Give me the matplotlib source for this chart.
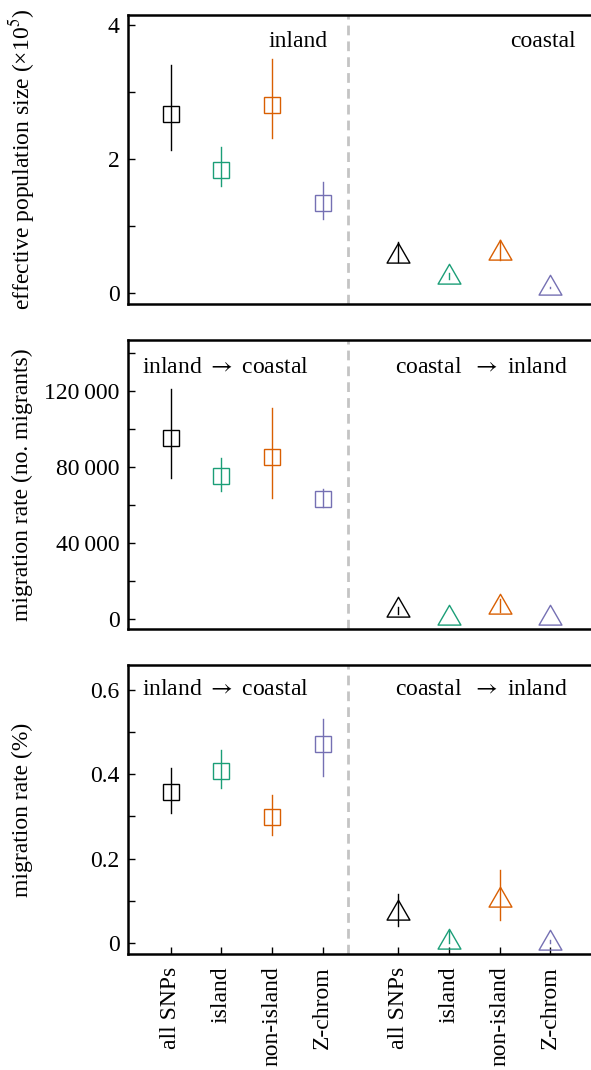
import numpy as np
import matplotlib
matplotlib.use('Agg')
import matplotlib.pyplot as plt
import matplotlib.path as mpath
from matplotlib.ticker import FixedLocator

plt.rcParams['font.family'] = ['Liberation Serif', 'DejaVu Serif']
plt.rcParams['mathtext.fontset'] = 'stix'
plt.rcParams['font.size'] = 17

# 데이터
categories = ['all SNPs', 'island', 'non-island', 'Z-chrom']
colors = ['#000000', '#1b9e77', '#d95f02', '#7570b3']

# effective population size (x10^5)
ne_inland = [2.67, 1.84, 2.81, 1.34]
ne_inland_lo = [2.13, 1.60, 2.31, 1.10]
ne_inland_hi = [3.40, 2.18, 3.49, 1.66]
ne_coastal = [0.56, 0.24, 0.60, 0.085]
ne_coastal_lo = [0.46, 0.21, 0.49, 0.08]
ne_coastal_hi = [0.77, 0.30, 0.79, 0.10]

# migration rate (no. migrants)
mig_ic = [95100, 75300, 85400, 63200]
mig_ic_lo = [74000, 67500, 63500, 59000]
mig_ic_hi = [120900, 84600, 111200, 68400]
mig_ci = [4500, 400, 6500, 400]
mig_ci_lo = [2600, 300, 3800, 300]
mig_ci_hi = [6500, 600, 10400, 500]

# migration rate (%)
pct_ic = [0.357, 0.407, 0.298, 0.471]
pct_ic_lo = [0.308, 0.367, 0.256, 0.397]
pct_ic_hi = [0.414, 0.458, 0.351, 0.531]
pct_ci = [0.072, 0.002, 0.102, 0.0]
pct_ci_lo = [0.041, 0.0, 0.054, 0.0]
pct_ci_hi = [0.116, 0.028, 0.174, 0.008]

x_left = np.array([1, 2, 3, 4])
x_right = np.array([5.5, 6.5, 7.5, 8.5])

# 삼각형 마커 (무게중심이 데이터 위치)
tri = mpath.Path([(0, 1), (-0.866, -0.5), (0.866, -0.5), (0, 1)], closed=True)


def draw_group(ax, xs, est, lo, hi, marker, ms):
    for i in range(len(xs)):
        ax.plot([xs[i], xs[i]], [lo[i], hi[i]], color=colors[i], lw=1.0)
        ax.plot(xs[i], est[i], marker=marker, ms=ms, mfc='none', mec=colors[i],
                mew=1.0, ls='none')


def style_axes(ax, ylim, major, minor, labels):
    ax.set_xlim(0.156, 9.306)
    ax.set_ylim(*ylim)
    ax.axvline(4.5, color='#c4c4c4', lw=2.0, ls=(0, (3.5, 2.2)))
    ax.spines['right'].set_visible(False)
    for s in ['left', 'top', 'bottom']:
        ax.spines[s].set_linewidth(1.8)
    ax.yaxis.set_major_locator(FixedLocator(major))
    ax.yaxis.set_minor_locator(FixedLocator(minor))
    ax.set_yticklabels(labels)
    ax.tick_params(axis='y', which='both', direction='in', length=5, width=1.0, pad=6)
    ax.set_xticks([])


arrow_ic = r'inland $\rightarrow$ coastal'
arrow_ci = r'coastal  $\rightarrow$ inland'

fig = plt.figure(figsize=(5.91, 10.70), dpi=100)
W = 0.7834
H = 289 / 1070
ax1 = fig.add_axes([128 / 591, 0.7159, W, H])
ax2 = fig.add_axes([128 / 591, 0.4121, W, H])
ax3 = fig.add_axes([128 / 591, 0.1084, W, H])

# 위 패널
draw_group(ax1, x_left, ne_inland, ne_inland_lo, ne_inland_hi, 's', 11.3)
draw_group(ax1, x_right, ne_coastal, ne_coastal_lo, ne_coastal_hi, tri, 19)
style_axes(ax1, (-0.16, 4.15), [0, 2, 4], [1, 3], ['0', '2', '4'])
ax1.text(0.368, 0.89, 'inland', transform=ax1.transAxes, ha='center', va='baseline')
ax1.text(0.968, 0.89, 'coastal', transform=ax1.transAxes, ha='right', va='baseline')

# 가운데 패널
draw_group(ax2, x_left, mig_ic, mig_ic_lo, mig_ic_hi, 's', 11.3)
draw_group(ax2, x_right, mig_ci, mig_ci_lo, mig_ci_hi, tri, 19)
style_axes(ax2, (-5263, 146800), [0, 40000, 80000, 120000],
           [20000, 60000, 100000, 140000],
           ['0', '40\u2009000', '80\u2009000', '120\u2009000'])
ax2.text(0.030, 0.886, arrow_ic, transform=ax2.transAxes, ha='left', va='baseline')
ax2.text(0.763, 0.886, arrow_ci, transform=ax2.transAxes, ha='center', va='baseline')

# 아래 패널
draw_group(ax3, x_left, pct_ic, pct_ic_lo, pct_ic_hi, 's', 11.3)
draw_group(ax3, x_right, pct_ci, pct_ci_lo, pct_ci_hi, tri, 19)
style_axes(ax3, (-0.026, 0.659), [0, 0.2, 0.4, 0.6], [0.1, 0.3, 0.5],
           ['0', '0.2', '0.4', '0.6'])
ax3.text(0.030, 0.896, arrow_ic, transform=ax3.transAxes, ha='left', va='baseline')
ax3.text(0.763, 0.896, arrow_ci, transform=ax3.transAxes, ha='center', va='baseline')
ax3.set_xticks(np.concatenate([x_left, x_right]))
ax3.set_xticklabels(categories + categories, rotation=90)
ax3.tick_params(axis='x', direction='in', length=5, width=1.0, pad=9)

# y축 라벨
fig.text(22 / 591, 1 - 159.5 / 1070, 'effective population size (\u00d710$^5$)',
         rotation=90, ha='center', va='center')
fig.text(22 / 591, 1 - 484.5 / 1070, 'migration rate (no. migrants)',
         rotation=90, ha='center', va='center')
fig.text(22 / 591, 1 - 809.5 / 1070, 'migration rate (%)',
         rotation=90, ha='center', va='center')

plt.savefig('out.png', dpi=100)
